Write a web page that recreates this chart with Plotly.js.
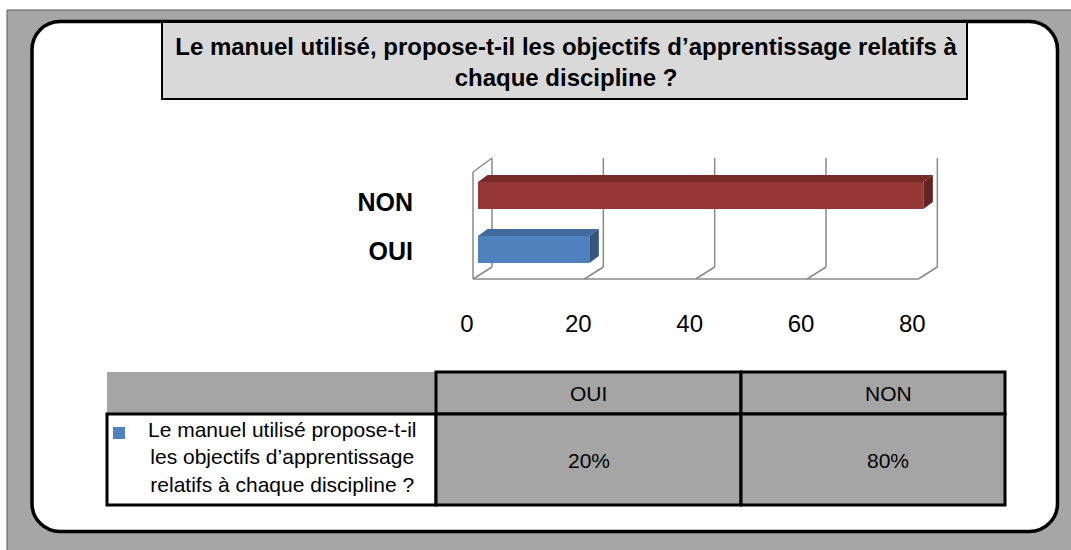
<!DOCTYPE html>
<html>
<head>
<meta charset="utf-8">
<script src="https://cdn.plot.ly/plotly-3.0.1.min.js"></script>
<style>
  html, body { margin: 0; padding: 0; background: #ffffff; }
  #chart { width: 1071px; height: 550px; }
</style>
</head>
<body>
<div id="chart"></div>
<script>
// ---------- data ----------
const categories = ['OUI', 'NON'];
const values = [20, 80];
const xTicks = [0, 20, 40, 60, 80];
const seriesLabel = 'Le manuel utilisé propose-t-il<br>les objectifs d’apprentissage<br>relatifs à chaque discipline ?';
const titleText = 'Le manuel utilisé, propose-t-il les objectifs d’apprentissage relatifs à<br>chaque discipline ?';
const barColors = ['#4f81bd', '#953735'];
const topColors = ['#41699c', '#762b29'];
const sideColors = ['#33557f', '#652421'];

// ---------- geometry (style) ----------
const W = 1071, H = 550;
const ML = 420, MT = 140, PW = 580, PH = 155;
const SX = 5.567;            // pixels per value unit
const X0PX = 478;            // pixel of value 0 on bar front
const barY = [45.5, 99.5];   // bar centres (y units = px from plot bottom)
const catLabelY = [44, 92.5];
const BAR_W = 27;
const DEPTH_DX = 9.5 / SX, DEPTH_DY = 7;
const FONT = 'Arial, "Liberation Sans", sans-serif';
const TITLE_FONT = '"Arial Narrow", "Liberation Sans Narrow", "Liberation Sans", Arial, sans-serif';

const P = (px, py) => [(px - ML) / PW, (MT + PH - py) / PH];
function rectShape(x0, y0, x1, y1, fill, lineColor, lineWidth) {
  const a = P(x0, y0), b = P(x1, y1);
  return { type: 'rect', xref: 'paper', yref: 'paper', layer: 'below',
    x0: a[0], y0: b[1], x1: b[0], y1: a[1],
    fillcolor: fill, line: { color: lineColor || 'rgba(0,0,0,0)', width: lineWidth || 0 } };
}
function roundRectPath(x0, y0, x1, y1, r) {
  const k = 0.5523 * r;
  const pts = [
    ['M', [x0 + r, y0]], ['L', [x1 - r, y0]],
    ['C', [x1 - r + k, y0], [x1, y0 + r - k], [x1, y0 + r]],
    ['L', [x1, y1 - r]],
    ['C', [x1, y1 - r + k], [x1 - r + k, y1], [x1 - r, y1]],
    ['L', [x0 + r, y1]],
    ['C', [x0 + r - k, y1], [x0, y1 - r + k], [x0, y1 - r]],
    ['L', [x0, y0 + r]],
    ['C', [x0, y0 + r - k], [x0 + r - k, y0], [x0 + r, y0]]
  ];
  return pts.map(s => s[0] + ' ' + s.slice(1).map(p => { const q = P(p[0], p[1]); return q[0].toFixed(5) + ',' + q[1].toFixed(5); }).join(' ')).join(' ') + ' Z';
}

const shapes = [];
// outer gray frame
shapes.push(rectShape(7, 10, 1090, 570, '#a6a6a6', '#5a5a5a', 1));
// white rounded panel
shapes.push({ type: 'path', xref: 'paper', yref: 'paper', layer: 'below',
  path: roundRectPath(32, 21.5, 1057.5, 531.5, 28), fillcolor: '#ffffff', line: { color: '#000000', width: 3.5 } });
// title box
shapes.push(rectShape(162, 22, 967, 99, '#d9d9d9', '#000000', 2));

// 3D walls / grid (data coordinates)
const gx = (v, d) => v + (-5 + 19 * d) / SX;
const gy = d => 16 + 12 * d;
const gridLine = (xa, ya, xb, yb) => ({ type: 'line', xref: 'x', yref: 'y', layer: 'below',
  x0: xa, y0: ya, x1: xb, y1: yb, line: { color: '#8a8a8a', width: 1.5 } });
const xMax = xTicks[xTicks.length - 1], xMin = xTicks[0];
shapes.push(gridLine(gx(xMin, 0), gy(0), gx(xMax, 0), gy(0)));
xTicks.forEach(v => {
  shapes.push(gridLine(gx(v, 0), gy(0), gx(v, 1), gy(1)));
  shapes.push(gridLine(gx(v, 1), gy(1), gx(v, 1), 137));
});
shapes.push(gridLine(gx(xMin, 0), gy(0), gx(xMin, 0), 123));
shapes.push(gridLine(gx(xMin, 0), 123, gx(xMin, 1), 137));

// table
const colX = [107, 436, 741, 1005];
const rowY = [372, 414, 505];
shapes.push(rectShape(colX[0], rowY[0], colX[1], rowY[1], '#a5a5a5'));
shapes.push(rectShape(colX[0], rowY[1], colX[1], rowY[2], '#ffffff', '#000000', 3));
for (let c = 1; c < 3; c++) {
  shapes.push(rectShape(colX[c], rowY[0], colX[c + 1], rowY[1], '#a5a5a5', '#000000', 3));
  shapes.push(rectShape(colX[c], rowY[1], colX[c + 1], rowY[2], '#a5a5a5', '#000000', 3));
}
// legend key
shapes.push(rectShape(113, 427, 125, 439, barColors[0]));

// annotations for table text
const colCenters = [588.5, 888];
const annotations = [];
categories.forEach((c, i) => {
  const h = P(colCenters[i], 393), b = P(colCenters[i], 460);
  annotations.push({ xref: 'paper', yref: 'paper', x: h[0], y: h[1], text: c, showarrow: false,
    xanchor: 'center', yanchor: 'middle', font: { family: FONT, size: 21, color: '#000' } });
  annotations.push({ xref: 'paper', yref: 'paper', x: b[0], y: b[1], text: values[i] + '%', showarrow: false,
    xanchor: 'center', yanchor: 'middle', font: { family: FONT, size: 21, color: '#000' } });
});
const sl = P(282, 457);
annotations.push({ xref: 'paper', yref: 'paper', x: sl[0], y: sl[1], text: seriesLabel, showarrow: false,
  xanchor: 'center', yanchor: 'middle', align: 'center', font: { family: FONT, size: 21, color: '#000' } });

// traces
const traces = [{
  type: 'bar', orientation: 'h', x: values, y: barY, base: 0, width: BAR_W,
  marker: { color: barColors, line: { width: 0 } }, hoverinfo: 'skip', showlegend: false
}];
values.forEach((v, i) => {
  const top = barY[i] + BAR_W / 2, bot = barY[i] - BAR_W / 2;
  traces.push({ type: 'scatter', mode: 'lines', fill: 'toself', fillcolor: topColors[i],
    line: { width: 0, color: topColors[i] }, hoverinfo: 'skip', showlegend: false,
    x: [0, v, v + DEPTH_DX, DEPTH_DX, 0], y: [top, top, top + DEPTH_DY, top + DEPTH_DY, top] });
  traces.push({ type: 'scatter', mode: 'lines', fill: 'toself', fillcolor: sideColors[i],
    line: { width: 0, color: sideColors[i] }, hoverinfo: 'skip', showlegend: false,
    x: [v, v, v + DEPTH_DX, v + DEPTH_DX, v], y: [bot, top, top + DEPTH_DY, bot + DEPTH_DY, bot] });
});

const layout = {
  width: W, height: H,
  margin: { l: ML, r: W - ML - PW, t: MT, b: H - MT - PH, pad: 0 },
  paper_bgcolor: '#ffffff', plot_bgcolor: 'rgba(0,0,0,0)',
  showlegend: false,
  title: { text: '<b>' + titleText + '</b>', x: 566 / W, xref: 'container', xanchor: 'center',
    y: 1 - 55 / H, yref: 'container', yanchor: 'top',
    font: { family: TITLE_FONT, size: 24, color: '#000000' } },
  xaxis: { range: [(ML - X0PX) / SX, (ML + PW - X0PX) / SX], showgrid: false, zeroline: false, showline: false,
    ticks: '', tickvals: xTicks, ticktext: xTicks.map(String), ticklabelshift: -11, ticklabelstandoff: 12,
    tickfont: { family: FONT, size: 24, color: '#000' }, fixedrange: true },
  yaxis: { range: [0, PH], showgrid: false, zeroline: false, showline: false, ticks: '',
    tickvals: catLabelY, ticktext: categories.map(c => '<b>' + c + '</b>'), ticklabelstandoff: 6,
    tickfont: { family: FONT, size: 25, color: '#000' }, fixedrange: true },
  shapes: shapes,
  annotations: annotations
};

Plotly.newPlot('chart', traces, layout, { staticPlot: true, displayModeBar: false });
</script>
</body>
</html>
